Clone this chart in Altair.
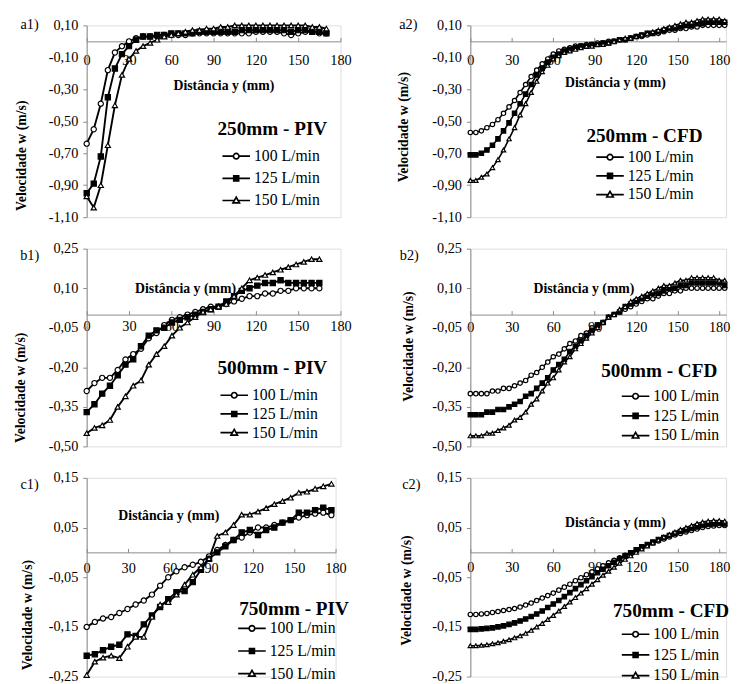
import altair as alt
import pandas as pd

FONT = "Liberation Serif"
GRAY = "#8a8a8a"
SERIES = ["100 L/min", "125 L/min", "150 L/min"]
SHAPES = ["circle", "square", "triangle-up"]
FILLS = ["white", "black", "white"]
STROKES = ["black", "black", "black"]
LEGEND_PATHS = [
    "M-1.4,0L-0.28,0M0.28,0L1.4,0M0.28,0A0.28,0.28,0,1,1,-0.28,0A0.28,0.28,0,1,1,0.28,0Z",
    "M-1.4,0L-0.25,0M0.25,0L1.4,0M-0.25,-0.25L0.25,-0.25L0.25,0.25L-0.25,0.25Z",
    "M-1.4,0L-0.19,0M0.19,0L1.4,0M0,-0.33L0.33,0.25L-0.33,0.25Z",
]
X_TICKS = [0, 30, 60, 90, 120, 150, 180]

# ---------------- 250 mm ----------------
X_A1 = [0, 5, 10, 15, 20, 25, 30, 35, 40, 45, 50, 55, 60, 65, 70, 75, 80, 85, 90, 95,
        100, 105, 110, 115, 120, 125, 130, 135, 140, 145, 150, 155, 160, 165, 170]
A1_100 = [-0.64, -0.55, -0.39, -0.18, -0.07, -0.03, 0.00, 0.02, 0.03, 0.03, 0.03, 0.04, 0.04, 0.04, 0.04,
          0.05, 0.05, 0.05, 0.05, 0.05, 0.05, 0.05, 0.05, 0.05, 0.06, 0.06, 0.06, 0.06, 0.05, 0.04,
          0.05, 0.06, 0.06, 0.05, 0.05]
A1_125 = [-0.95, -0.89, -0.72, -0.35, -0.17, -0.08, -0.03, 0.01, 0.03, 0.03, 0.04, 0.04, 0.05, 0.05, 0.05,
          0.05, 0.06, 0.06, 0.06, 0.06, 0.06, 0.06, 0.07, 0.07, 0.07, 0.07, 0.07, 0.07, 0.07, 0.06,
          0.07, 0.07, 0.06, 0.06, 0.05]
A1_150 = [-0.97, -1.04, -0.90, -0.65, -0.40, -0.21, -0.11, -0.06, -0.03, -0.01, 0.01, 0.03, 0.04, 0.05, 0.06,
          0.07, 0.07, 0.08, 0.08, 0.09, 0.09, 0.10, 0.10, 0.10, 0.10, 0.10, 0.10, 0.10, 0.10, 0.10,
          0.10, 0.10, 0.09, 0.09, 0.08]

X_CFD = [0, 4, 8, 12, 16, 20, 24, 28, 32, 36, 40, 44, 48, 52, 56, 60, 64, 68, 72, 76, 80, 84, 88, 92,
         96, 100, 104, 108, 112, 116, 120, 124, 128, 132, 136, 140, 144, 148, 152, 156, 160, 164,
         168, 172, 176, 180, 184]
A2_100 = [-0.57, -0.57, -0.56, -0.54, -0.52, -0.49, -0.45, -0.41, -0.37, -0.32,
          -0.27, -0.22, -0.18, -0.14, -0.11, -0.08, -0.06, -0.05, -0.04, -0.03,
          -0.03, -0.02, -0.02, -0.01, -0.01, 0.00, 0.00, 0.01, 0.01, 0.02,
          0.03, 0.03, 0.04, 0.05, 0.05, 0.06, 0.07, 0.07, 0.08, 0.08,
          0.09, 0.09, 0.10, 0.10, 0.10, 0.10, 0.10]
A2_125 = [-0.71, -0.71, -0.70, -0.68, -0.65, -0.61, -0.56, -0.51, -0.45, -0.39,
          -0.33, -0.27, -0.21, -0.17, -0.13, -0.10, -0.08, -0.06, -0.05, -0.04,
          -0.03, -0.03, -0.02, -0.02, -0.01, -0.01, 0.00, 0.01, 0.01, 0.02,
          0.03, 0.04, 0.05, 0.05, 0.06, 0.07, 0.08, 0.08, 0.09, 0.10,
          0.10, 0.11, 0.11, 0.12, 0.12, 0.12, 0.12]
A2_150 = [-0.87, -0.87, -0.85, -0.83, -0.79, -0.74, -0.68, -0.61, -0.54, -0.46,
          -0.39, -0.32, -0.25, -0.19, -0.15, -0.11, -0.09, -0.07, -0.06, -0.05,
          -0.04, -0.03, -0.03, -0.02, -0.02, -0.01, 0.00, 0.01, 0.02, 0.02,
          0.03, 0.04, 0.05, 0.06, 0.07, 0.08, 0.09, 0.10, 0.11, 0.12,
          0.12, 0.13, 0.14, 0.14, 0.14, 0.14, 0.13]

# ---------------- 500 mm ----------------
X_B1 = [0, 5.5, 11, 16.5, 22, 27.5, 33, 38.5, 44, 49.5, 55, 60.5, 66, 71.5, 77, 82.5, 88, 93.5,
        99, 104.5, 110, 115.5, 121, 126.5, 132, 137.5, 143, 148.5, 154, 159.5, 165]
B1_100 = [-0.29, -0.26, -0.24, -0.24, -0.21, -0.17, -0.15, -0.13, -0.09, -0.07,
          -0.04, -0.02, -0.01, 0.00, 0.01, 0.02, 0.03, 0.03, 0.04, 0.05,
          0.06, 0.07, 0.07, 0.08, 0.08, 0.09, 0.09, 0.10, 0.10, 0.10, 0.10]
B1_125 = [-0.37, -0.34, -0.30, -0.27, -0.23, -0.19, -0.17, -0.12, -0.08, -0.06,
          -0.05, -0.03, -0.02, -0.01, 0.00, 0.01, 0.02, 0.03, 0.05, 0.07,
          0.09, 0.10, 0.11, 0.12, 0.12, 0.13, 0.12, 0.12, 0.12, 0.12, 0.12]
B1_150 = [-0.45, -0.43, -0.42, -0.40, -0.35, -0.31, -0.27, -0.25, -0.19, -0.15,
          -0.12, -0.08, -0.05, -0.03, -0.01, 0.01, 0.02, 0.03, 0.04, 0.07,
          0.10, 0.13, 0.14, 0.15, 0.16, 0.17, 0.18, 0.19, 0.20, 0.21, 0.21]

B2_100 = [-0.30, -0.30, -0.30, -0.30, -0.29, -0.29, -0.28, -0.28, -0.27, -0.26,
          -0.25, -0.23, -0.22, -0.20, -0.18, -0.16, -0.15, -0.13, -0.11, -0.10,
          -0.08, -0.07, -0.05, -0.04, -0.03, -0.01, 0.00, 0.01, 0.02, 0.03,
          0.04, 0.05, 0.06, 0.06, 0.07, 0.08, 0.08, 0.09, 0.09, 0.10,
          0.10, 0.10, 0.10, 0.10, 0.10, 0.10, 0.10]
B2_125 = [-0.38, -0.38, -0.38, -0.37, -0.37, -0.36, -0.36, -0.35, -0.34, -0.33,
          -0.31, -0.30, -0.28, -0.26, -0.24, -0.21, -0.19, -0.17, -0.14, -0.12,
          -0.10, -0.08, -0.06, -0.04, -0.03, -0.01, 0.00, 0.01, 0.03, 0.04,
          0.05, 0.06, 0.07, 0.08, 0.08, 0.09, 0.10, 0.10, 0.11, 0.11,
          0.12, 0.12, 0.12, 0.12, 0.12, 0.12, 0.11]
B2_150 = [-0.46, -0.46, -0.46, -0.45, -0.45, -0.44, -0.43, -0.42, -0.40, -0.39,
          -0.37, -0.34, -0.32, -0.29, -0.26, -0.24, -0.21, -0.18, -0.16, -0.13,
          -0.11, -0.09, -0.07, -0.05, -0.03, -0.01, 0.00, 0.02, 0.03, 0.05,
          0.06, 0.07, 0.08, 0.09, 0.10, 0.11, 0.11, 0.12, 0.13, 0.13,
          0.14, 0.14, 0.14, 0.14, 0.14, 0.13, 0.13]

# ---------------- 750 mm ----------------
X_C1 = [0, 5.9, 11.8, 17.7, 23.6, 29.5, 35.4, 41.3, 47.2, 53.1, 59.0, 64.9, 70.8, 76.7, 82.6, 88.5,
        94.4, 100.3, 106.2, 112.1, 118.0, 123.9, 129.8, 135.7, 141.6, 147.5, 153.4, 159.3, 165.2,
        171.1, 177.0]
C1_100 = [-0.150, -0.140, -0.133, -0.130, -0.122, -0.114, -0.105, -0.097, -0.085, -0.067,
          -0.050, -0.038, -0.030, -0.025, -0.019, -0.008, 0.005, 0.015, 0.025, 0.030,
          0.040, 0.050, 0.050, 0.055, 0.060, 0.065, 0.070, 0.075, 0.078, 0.080, 0.075]
C1_125 = [-0.208, -0.205, -0.197, -0.190, -0.186, -0.165, -0.168, -0.145, -0.127, -0.110,
          -0.094, -0.080, -0.078, -0.060, -0.035, -0.013, 0.000, 0.012, 0.025, 0.040,
          0.045, 0.035, 0.045, 0.050, 0.060, 0.065, 0.080, 0.080, 0.085, 0.090, 0.085]
C1_150 = [-0.247, -0.220, -0.212, -0.208, -0.213, -0.190, -0.170, -0.170, -0.130, -0.105,
          -0.100, -0.085, -0.065, -0.045, -0.030, -0.012, 0.033, 0.040, 0.055, 0.076,
          0.076, 0.082, 0.089, 0.097, 0.103, 0.110, 0.120, 0.122, 0.128, 0.133, 0.138]

C2_100 = [-0.125, -0.125, -0.124, -0.123, -0.121, -0.119, -0.117, -0.115, -0.113, -0.110,
          -0.106, -0.102, -0.097, -0.092, -0.087, -0.082, -0.076, -0.070, -0.064, -0.057,
          -0.051, -0.045, -0.039, -0.033, -0.027, -0.021, -0.016, -0.011, -0.006, -0.001,
          0.004, 0.009, 0.014, 0.019, 0.023, 0.027, 0.031, 0.035, 0.038, 0.041,
          0.044, 0.047, 0.050, 0.052, 0.053, 0.054, 0.054]
C2_125 = [-0.155, -0.155, -0.154, -0.153, -0.152, -0.150, -0.148, -0.145, -0.142, -0.138,
          -0.134, -0.129, -0.124, -0.118, -0.111, -0.104, -0.097, -0.089, -0.081, -0.073,
          -0.065, -0.057, -0.049, -0.041, -0.034, -0.027, -0.020, -0.013, -0.007, -0.001,
          0.005, 0.011, 0.016, 0.021, 0.026, 0.030, 0.034, 0.038, 0.042, 0.045,
          0.048, 0.051, 0.054, 0.056, 0.057, 0.058, 0.057]
C2_150 = [-0.188, -0.188, -0.187, -0.186, -0.184, -0.182, -0.179, -0.176, -0.172, -0.168,
          -0.163, -0.157, -0.150, -0.143, -0.135, -0.127, -0.118, -0.109, -0.100, -0.091,
          -0.082, -0.073, -0.064, -0.055, -0.046, -0.038, -0.030, -0.022, -0.014, -0.007,
          0.000, 0.007, 0.013, 0.019, 0.025, 0.031, 0.036, 0.041, 0.046, 0.050,
          0.054, 0.058, 0.061, 0.063, 0.064, 0.064, 0.063]

Y_TICKS_A = [-1.1, -0.9, -0.7, -0.5, -0.3, -0.1, 0.1]
Y_TICKS_B = [-0.5, -0.35, -0.2, -0.05, 0.1, 0.25]
Y_TICKS_C = [-0.25, -0.15, -0.05, 0.05, 0.15]

YFMT = "replace(replace(format(datum.value, '.2f'), '.', ','), '\u2212', '-')"


def panel(xs, ys_list, xmax, ydom, yticks, w, h, c, msize, lw, mstroke):
    rows = []
    for s, ys in zip(SERIES, ys_list):
        assert len(xs) == len(ys), (c["tag"], s, len(xs), len(ys))
        for xv, yv in zip(xs, ys):
            rows.append({"x": xv, "v": yv, "s": s})
    df = pd.DataFrame(rows)
    y0 = ydom[1] / (ydom[1] - ydom[0]) * h

    xaxis = alt.Axis(
        orient="top", offset=-y0, values=X_TICKS, grid=False,
        domainColor=GRAY, tickColor=GRAY, tickSize=4,
        labelBaseline="top", labelPadding=-(4 + c["xlab"]), labelFlush=False, labelOverlap=False,
        labelFont=FONT, labelFontSize=14.5, labelColor="black",
        title="Distância y (mm)", titleFont=FONT, titleFontSize=14, titleFontWeight="bold",
        titleColor="black", titleX=c["xt"][0], titleY=c["xt"][1], titleBaseline="middle",
        titleAlign="center", titleAngle=0,
    )
    yaxis = alt.Axis(
        orient="left", values=yticks, grid=False, labelExpr=YFMT,
        domainColor=GRAY, tickColor=GRAY, tickSize=4, labelPadding=5,
        labelFont=FONT, labelFontSize=14.5, labelColor="black",
        title="Velocidade w (m/s)", titleFont=FONT, titleFontSize=14, titleFontWeight="bold",
        titleColor="black", titleX=c["yt"][0], titleY=c["yt"][1], titleAngle=270,
        titleBaseline="middle", titleAlign="center",
    )
    X = alt.X("x:Q", scale=alt.Scale(domain=[0, xmax], nice=False, zero=False), axis=xaxis)
    Y = alt.Y("v:Q", scale=alt.Scale(domain=ydom, nice=False, zero=False), axis=yaxis)

    lines = alt.Chart(df).mark_line(color="black", strokeWidth=lw).encode(x=X, y=Y, detail="s:N")
    pts = alt.Chart(df).mark_point(filled=True, stroke="black", strokeWidth=mstroke, size=msize, opacity=1).encode(
        x=X, y=Y,
        shape=alt.Shape("s:N", scale=alt.Scale(domain=SERIES, range=SHAPES), legend=None),
        fill=alt.Fill("s:N", scale=alt.Scale(domain=SERIES, range=FILLS), legend=None),
    )
    leg = dict(orient="none", legendX=c["leg"][0], legendY=c["leg"][1], title=None,
               labelFont=FONT, labelFontSize=16, labelColor="black", symbolSize=400,
               symbolStrokeColor="black", symbolStrokeWidth=1.7, rowPadding=c["leg"][2],
               labelOffset=7, padding=0)
    legend_layer = alt.Chart(df).transform_filter("false").mark_point(
        filled=True, strokeWidth=1.7, size=400, opacity=1).encode(
        shape=alt.Shape("s:N", scale=alt.Scale(domain=SERIES, range=LEGEND_PATHS), legend=alt.Legend(**leg)),
        fill=alt.Fill("s:N", scale=alt.Scale(domain=SERIES, range=FILLS), legend=alt.Legend(**leg)),
        stroke=alt.Stroke("s:N", scale=alt.Scale(domain=SERIES, range=STROKES), legend=alt.Legend(**leg)),
    )
    tag = alt.Chart(pd.DataFrame({"t": [c["tag"]]})).mark_text(
        font=FONT, fontSize=14.5, align="center", baseline="middle", color="black").encode(
        x=alt.value(c["tagpos"][0]), y=alt.value(c["tagpos"][1]), text="t:N")
    ttl = alt.Chart(pd.DataFrame({"t": [c["title"]]})).mark_text(
        font=FONT, fontSize=19.5, fontWeight="bold", align="left", baseline="middle", color="black").encode(
        x=alt.value(c["tpos"][0]), y=alt.value(c["tpos"][1]), text="t:N")
    return alt.layer(lines, pts, legend_layer, tag, ttl).resolve_scale(
        shape="independent", fill="independent", stroke="independent").properties(width=w, height=h)


a1 = panel(X_A1, [A1_100, A1_125, A1_150], 180, [-1.1, 0.1], Y_TICKS_A, 258, 195,
           dict(tag="a1)", tagpos=(-58, 0), title="250mm - PIV", tpos=(133, 105), leg=(141, 122, 3.5),
                xt=(139, 45), yt=(-66, 132), xlab=13), 28, 1.9, 1.2)
a2 = panel(X_CFD, [A2_100, A2_125, A2_150], 185, [-1.1, 0.1], Y_TICKS_A, 260, 195,
           dict(tag="a2)", tagpos=(-63, 0), title="250mm - CFD", tpos=(118, 113), leg=(131, 123, 0),
                xt=(147, 42), yt=(-68, 103), xlab=13), 20, 1.6, 1.2)
b1 = panel(X_B1, [B1_100, B1_125, B1_150], 180, [-0.5, 0.25], Y_TICKS_B, 258, 201,
           dict(tag="b1)", tagpos=(-58, 8), title="500mm - PIV", tpos=(133, 121), leg=(139, 138, 0),
                xt=(100, -26), yt=(-67, 141), xlab=5), 28, 1.9, 1.2)
b2 = panel(X_CFD, [B2_100, B2_125, B2_150], 185, [-0.5, 0.25], Y_TICKS_B, 260, 201,
           dict(tag="b2)", tagpos=(-62, 8), title="500mm - CFD", tpos=(133, 124), leg=(157, 139, 1),
                xt=(115, -26), yt=(-63, 99), xlab=6), 20, 1.6, 1.2)
c1 = panel(X_C1, [C1_100, C1_125, C1_150], 180, [-0.25, 0.15], Y_TICKS_C, 253, 202,
           dict(tag="c1)", tagpos=(-58, 7), title="750mm - PIV", tpos=(155, 133), leg=(157, 142, 4),
                xt=(83, -37), yt=(-60, 139), xlab=9), 28, 1.9, 1.2)
c2 = panel(X_CFD, [C2_100, C2_125, C2_150], 185, [-0.25, 0.15], Y_TICKS_C, 260, 202,
           dict(tag="c2)", tagpos=(-60, 7), title="750mm - CFD", tpos=(145, 135), leg=(157, 148, 2),
                xt=(147, -30), yt=(-65, 114), xlab=8), 20, 1.6, 1.2)

chart = alt.concat(a1, a2, b1, b2, c1, c2, columns=2, spacing={"row": 16, "column": 44}).resolve_scale(
    x="independent", y="independent", shape="independent", fill="independent", stroke="independent"
).properties(
    padding={"left": 5, "top": 0, "right": 0, "bottom": 0}
).configure_view(stroke=None).configure(background="white")

chart.save("out.html", embed_options={"renderer": "svg", "actions": False})
